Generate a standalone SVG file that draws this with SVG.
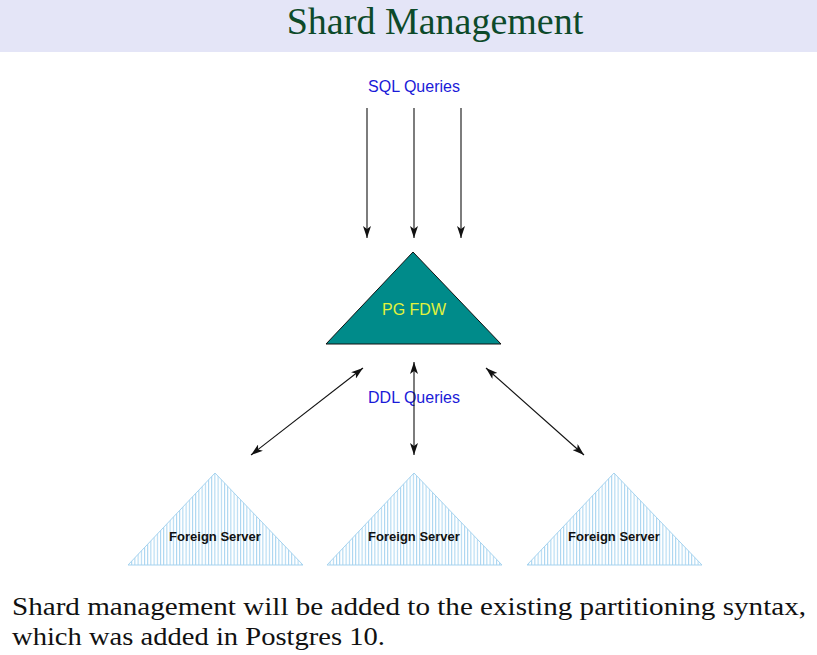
<svg xmlns="http://www.w3.org/2000/svg" width="817" height="655" viewBox="0 0 817 655">
<style>
.title{font-family:"Liberation Serif",serif;font-size:38px;fill:#0d4a2a;text-anchor:middle}
.lbl{font-family:"Liberation Sans",Arial,sans-serif;font-size:16px;fill:#1a1ad8;text-anchor:middle}
.fdw{font-family:"Liberation Sans",Arial,sans-serif;font-size:16px;fill:#e2f23c;text-anchor:middle}
.fs{font-family:"Liberation Sans",Arial,sans-serif;font-size:13px;font-weight:bold;fill:#111;text-anchor:middle}
.body{font-family:"Liberation Serif",serif;font-size:26px;fill:#111}
.conn line{stroke:#111;stroke-width:1.1}
.fsTri{fill:url(#stripes);stroke:#a6d3ef;stroke-width:1}
</style>
<defs>
<pattern id="stripes" patternUnits="userSpaceOnUse" width="3.2" height="10">
<rect x="0" y="0" width="3.2" height="10" fill="#ffffff"/>
<rect x="0" y="0" width="1" height="10" fill="#a6d3ef"/>
</pattern>
<marker id="ah" viewBox="0 0 12 8" refX="12" refY="4" markerWidth="12" markerHeight="8" markerUnits="userSpaceOnUse" orient="auto-start-reverse">
<path d="M0,0 L12,4 L0,8 L3,4 Z" fill="#111"/>
</marker>
</defs>
<rect x="0" y="0" width="817" height="52" fill="#e4e5f7"/>
<text class="title" x="435" y="34">Shard Management</text>
<text class="lbl" x="414" y="92">SQL Queries</text>
<text class="lbl" x="414" y="403">DDL Queries</text>
<g class="conn" id="connectors">
<line x1="367" y1="108" x2="367" y2="238" marker-end="url(#ah)"/>
<line x1="414" y1="108" x2="414" y2="238" marker-end="url(#ah)"/>
<line x1="461" y1="108" x2="461" y2="238" marker-end="url(#ah)"/>
<line x1="363" y1="368" x2="251" y2="455" marker-start="url(#ah)" marker-end="url(#ah)"/>
<line x1="414" y1="362" x2="414" y2="455" marker-start="url(#ah)" marker-end="url(#ah)"/>
<line x1="486" y1="368" x2="584" y2="455" marker-start="url(#ah)" marker-end="url(#ah)"/>
</g>
<g id="pgfdw">
<polygon points="413,252 501,344 326,344" fill="#008b8a" stroke="#111" stroke-width="1"/>
<text class="fdw" x="414" y="315">PG FDW</text>
</g>
<g id="fs1">
<polygon class="fsTri" points="215,473 303,565 128,565"/>
<text class="fs" x="215" y="541">Foreign Server</text>
</g>
<g id="fs2">
<polygon class="fsTri" points="414,473 502,565 327,565"/>
<text class="fs" x="414" y="541">Foreign Server</text>
</g>
<g id="fs3">
<polygon class="fsTri" points="614,473 702,565 527,565"/>
<text class="fs" x="614" y="541">Foreign Server</text>
</g>
<text class="body" x="12" y="615" textLength="794" lengthAdjust="spacingAndGlyphs">Shard management will be added to the existing partitioning syntax,</text>
<text class="body" x="12" y="645" textLength="373" lengthAdjust="spacingAndGlyphs">which was added in Postgres 10.</text>
</svg>
